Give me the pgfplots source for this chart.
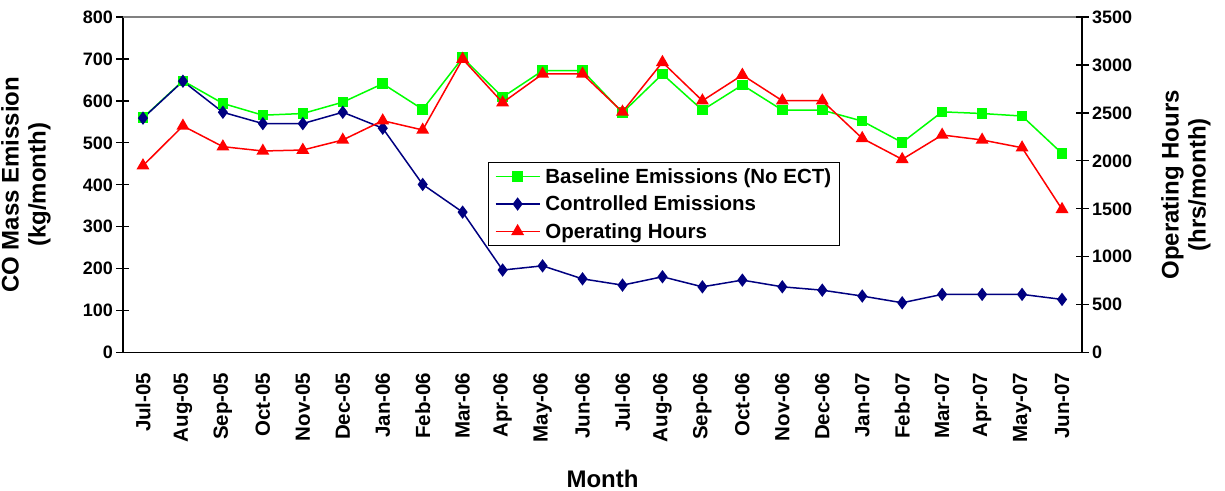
\documentclass[border=0pt]{standalone}
\usepackage{pgfplots}
\pgfplotsset{compat=1.18}
\usepackage{pgfplotstable}
\usepackage{fontspec}
\setmainfont{Liberation Sans}
\definecolor{cgreen}{HTML}{00FF00}
\definecolor{cnavy}{HTML}{000080}
\definecolor{cred}{HTML}{FF0000}
\pgfplotstableread{
idx base ctrl hours
0 560 559 1950
1 648 647 2364
2 594 573 2148
3 566 546 2103
4 570 546 2113
5 597 573 2218
6 641 535 2419
7 580 401 2322
8 703 335 3062
9 609 197 2607
10 672 207 2906
11 672 176 2906
12 572 161 2510
13 664 181 3028
14 578 157 2627
15 638 173 2895
16 578 157 2627
17 578 149 2627
18 552 135 2235
19 501 119 2016
20 574 139 2270
21 570 139 2218
22 564 139 2137
23 475 127 1495
}\datatable
\begin{document}
\begin{tikzpicture}
\path[use as bounding box] (-123bp,-138.3bp) rectangle (1102bp,352.7bp);
\pgfplotsset{
  every axis/.append style={
    scale only axis, width=959bp, height=335.7bp,
    at={(0,0)}, anchor=south west,
    xmin=-0.5, xmax=23.5,
    tick align=center,
    major tick length=13bp, minor tick length=13bp,
    /pgf/number format/assume math mode=true,
    /pgf/number format/1000 sep={},
    tick label style={font=\fontsize{18bp}{20bp}\selectfont\bfseries},
    label style={font=\fontsize{24bp}{27bp}\selectfont\bfseries},
    axis line style={line width=1.5bp, black},
    every tick/.style={line width=1.2bp, black},
  }
}
\begin{axis}[
  axis x line*=bottom, axis y line*=left,
  ymin=0, ymax=800, ytick={0,100,...,800},
  xtick={0,...,23},
  xticklabels={Jul-05,Aug-05,Sep-05,Oct-05,Nov-05,Dec-05,Jan-06,Feb-06,Mar-06,Apr-06,May-06,Jun-06,Jul-06,Aug-06,Sep-06,Oct-06,Nov-06,Dec-06,Jan-07,Feb-07,Mar-07,Apr-07,May-07,Jun-07},
  xtick style={draw=none},
  minor xtick={-0.5,0.5,...,23.5},
  xticklabel style={rotate=90, anchor=east, xshift=-10bp, font=\fontsize{20.5bp}{22bp}\selectfont\bfseries},
  xlabel={Month},
  xlabel style={at={(axis description cs:0.5,-0.375)}, anchor=center},
  ylabel={CO Mass Emission\\(kg/month)},
  ylabel style={align=center, at={(axis description cs:-0.1011,0.5)}, anchor=center},
  clip=false,
]
\draw[gray, line width=1.2bp] (rel axis cs:0,1) -- (rel axis cs:1,1);
\addplot[cgreen, line width=1.5bp, mark=square*, mark size=4.5bp] table[x=idx,y=base]{\datatable};
\addplot[cnavy, line width=1.5bp, mark=diamond*, mark size=5.5bp] table[x=idx,y=ctrl]{\datatable};
\end{axis}
\begin{axis}[
  axis x line=none, axis y line*=right,
  ymin=0, ymax=3500, ytick={0,500,...,3500},
  ylabel={Operating Hours\\(hrs/month)},
  ylabel style={align=center, at={(axis description cs:1.1084,0.5)}, anchor=center},
  legend style={at={(0.381,0.568)}, anchor=north west, draw=black, line width=1bp, fill=white,
    font=\fontsize{20.5bp}{24bp}\selectfont\bfseries, inner xsep=6bp, inner ysep=4bp, row sep=7bp,
    /tikz/every odd column/.append style={column sep=3bp}},
  legend cell align=left,
  legend image code/.code={\draw[mark repeat=2,mark phase=2] plot coordinates {(0bp,0bp)(22bp,0bp)(44bp,0bp)};},
  clip=false,
]
\addlegendimage{cgreen, line width=1.5bp, mark=square*, mark size=4.5bp}
\addlegendentry{Baseline Emissions (No ECT)}
\addlegendimage{cnavy, line width=1.5bp, mark=diamond*, mark size=5.5bp}
\addlegendentry{Controlled Emissions}
\addplot[cred, line width=1.5bp, mark=triangle*, mark size=6bp] table[x=idx,y=hours]{\datatable};
\addlegendentry{Operating Hours}
\end{axis}
\end{tikzpicture}
\end{document}
